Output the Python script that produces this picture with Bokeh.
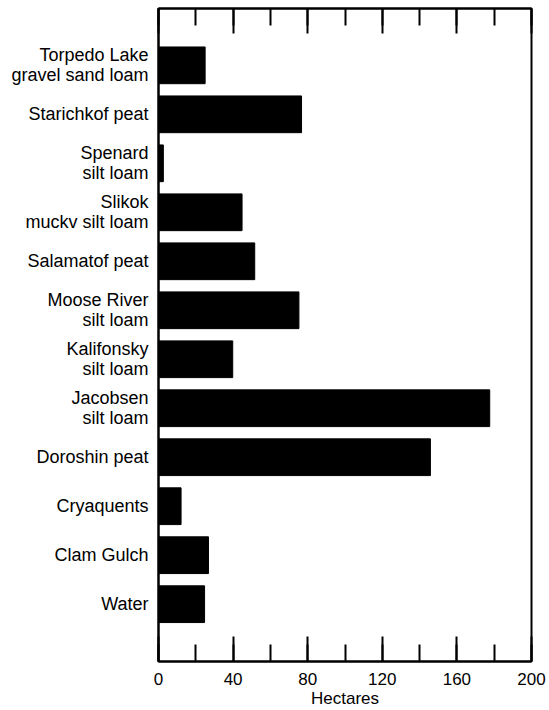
from bokeh.plotting import figure
from bokeh.models import Range1d, LinearAxis, SingleIntervalTicker, FixedTicker, CustomJSTickFormatter
from bokeh.embed import file_html
from bokeh.resources import INLINE

# Data (top to bottom as shown)
soil_units = [
    "Torpedo Lake\ngravel sand loam",
    "Starichkof peat",
    "Spenard\nsilt loam",
    "Slikok\nmuckv silt loam",
    "Salamatof peat",
    "Moose River\nsilt loam",
    "Kalifonsky\nsilt loam",
    "Jacobsen\nsilt loam",
    "Doroshin peat",
    "Cryaquents",
    "Clam Gulch",
    "Water",
]
hectares = [25.0, 76.7, 2.6, 44.8, 51.6, 75.3, 39.8, 177.6, 145.8, 12.1, 26.8, 24.7]
x_ticks_major = 40
x_ticks_minor = 2

n = len(soil_units)
ypos = [n - 1 - i for i in range(n)]

FONT = "Liberation Sans"
LINE_GAP = 0.205  # half line spacing in y units, for right-aligned two-line labels

label_ticks = []
label_overrides = {}
for y, lab in zip(ypos, soil_units):
    lines = lab.split("\n")
    if len(lines) == 1:
        label_ticks.append(float(y))
        label_overrides[float(y)] = lines[0]
    else:
        t1 = round(y + LINE_GAP, 3)
        t2 = round(y - LINE_GAP, 3)
        label_ticks += [t1, t2]
        label_overrides[t1] = lines[0]
        label_overrides[t2] = lines[1]

p = figure(width=549, height=710, output_backend="svg", toolbar_location=None,
           x_range=Range1d(0, 200), y_range=Range1d(-1.17, 12.16),
           x_axis_location=None, y_axis_location=None)
p.min_border_left = 158
p.min_border_right = 18
p.min_border_top = 8
p.min_border_bottom = 49
p.grid.visible = False
p.outline_line_color = "black"
p.outline_line_width = 2
p.background_fill_color = "white"
p.border_fill_color = "white"

p.hbar(y=ypos, right=hectares, left=0, height=0.75, color="black")

def style_x(ax, labels=True):
    ax.ticker = SingleIntervalTicker(interval=x_ticks_major, num_minor_ticks=x_ticks_minor)
    ax.major_tick_in = 25
    ax.major_tick_out = 0
    ax.minor_tick_in = 17
    ax.minor_tick_out = 0
    ax.major_tick_line_color = "black"
    ax.minor_tick_line_color = "black"
    ax.major_tick_line_width = 2
    ax.minor_tick_line_width = 2
    ax.axis_line_color = "black"
    ax.axis_line_width = 2
    if labels:
        ax.major_label_text_font = FONT
        ax.major_label_text_font_size = "17px"
        ax.major_label_text_color = "black"
        ax.major_label_standoff = 11
    else:
        ax.formatter = CustomJSTickFormatter(code="return ''")
        ax.major_label_standoff = 0

bottom = LinearAxis(axis_label="Hectares")
style_x(bottom)
bottom.axis_label_text_font = FONT
bottom.axis_label_text_font_size = "17px"
bottom.axis_label_text_font_style = "normal"
bottom.axis_label_text_color = "black"
bottom.axis_label_standoff = 1
p.add_layout(bottom, "below")

top = LinearAxis()
style_x(top, labels=False)
p.add_layout(top, "above")

left = LinearAxis()
left.ticker = FixedTicker(ticks=label_ticks)
left.major_label_overrides = label_overrides
left.major_tick_in = 0
left.major_tick_out = 0
left.minor_tick_in = 0
left.minor_tick_out = 0
left.axis_line_color = "black"
left.axis_line_width = 2
left.major_label_text_font = FONT
left.major_label_text_font_size = "18px"
left.major_label_text_color = "black"
left.major_label_standoff = 10
p.add_layout(left, "left")

open("out.html", "w").write(file_html(p, INLINE))
